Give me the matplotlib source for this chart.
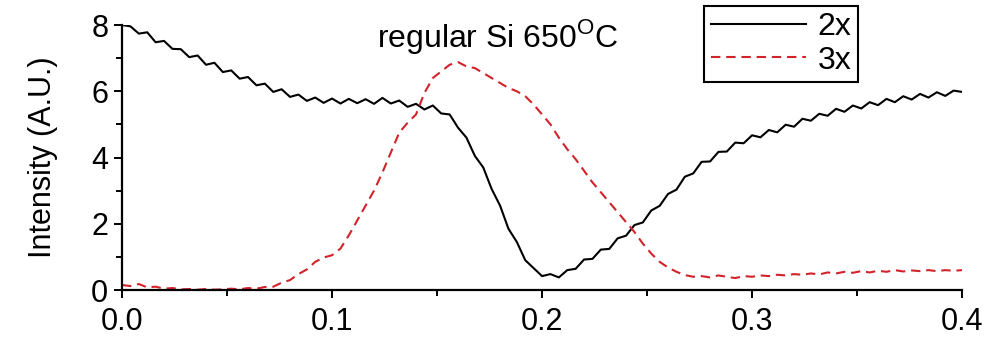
import numpy as np
import matplotlib
matplotlib.use('Agg')
import matplotlib.pyplot as plt
from matplotlib.ticker import MultipleLocator

plt.rcParams['font.family'] = ['Liberation Sans', 'DejaVu Sans']
plt.rcParams['mathtext.fontset'] = 'custom'
plt.rcParams['mathtext.rm'] = 'Liberation Sans'

# position grid (0 .. 0.4, step 0.004)
pos = np.linspace(0.0, 0.4, 101)

int_2x = [8.00, 7.96, 7.74, 7.78, 7.48, 7.52, 7.28, 7.27, 7.03, 7.08,
          6.80, 6.86, 6.58, 6.63, 6.38, 6.43, 6.18, 6.23, 5.98, 6.06,
          5.83, 5.90, 5.71, 5.81, 5.65, 5.78, 5.63, 5.77, 5.64, 5.76,
          5.62, 5.80, 5.63, 5.72, 5.53, 5.62, 5.45, 5.57, 5.33, 5.30,
          4.90, 4.60, 4.05, 3.70, 3.05, 2.55, 1.85, 1.45, 0.90, 0.66,
          0.42, 0.48, 0.38, 0.60, 0.64, 0.92, 0.94, 1.22, 1.24, 1.56,
          1.64, 1.96, 2.04, 2.40, 2.54, 2.90, 3.03, 3.42, 3.52, 3.87,
          3.88, 4.17, 4.18, 4.45, 4.43, 4.67, 4.61, 4.83, 4.76, 4.99,
          4.93, 5.17, 5.11, 5.32, 5.26, 5.47, 5.38, 5.57, 5.48, 5.67,
          5.58, 5.77, 5.67, 5.85, 5.75, 5.92, 5.81, 5.97, 5.86, 6.02,
          5.98]

int_3x = [0.15, 0.12, 0.18, 0.08, 0.10, 0.04, 0.06, 0.02, 0.03, 0.01,
          0.03, 0.01, 0.02, 0.04, 0.02, 0.06, 0.04, 0.09, 0.10, 0.22,
          0.30, 0.48, 0.62, 0.85, 0.98, 1.05, 1.25, 1.65, 2.10, 2.55,
          3.00, 3.55, 4.15, 4.75, 5.05, 5.30, 5.95, 6.40, 6.60, 6.80,
          6.88, 6.75, 6.70, 6.55, 6.40, 6.25, 6.10, 6.00, 5.85, 5.60,
          5.30, 5.00, 4.60, 4.25, 3.95, 3.60, 3.25, 2.95, 2.65, 2.35,
          2.05, 1.75, 1.40, 1.10, 0.85, 0.68, 0.55, 0.45, 0.40, 0.42,
          0.38, 0.44, 0.40, 0.36, 0.42, 0.40, 0.44, 0.42, 0.46, 0.44,
          0.48, 0.46, 0.50, 0.47, 0.53, 0.50, 0.55, 0.52, 0.57, 0.53,
          0.58, 0.55, 0.60, 0.56, 0.59, 0.57, 0.60, 0.57, 0.60, 0.58,
          0.60]

fig = plt.figure(figsize=(10.01, 3.38), dpi=100)
ax = fig.add_axes([0.1219, 0.142, 0.8392, 0.784])

ax.plot(pos, int_2x, color='black', lw=1.5, label='2x')
ax.plot(pos, int_3x, color='#d2232a', lw=1.5, linestyle=(0, (4.5, 2.8)), label='3x')

ax.set_xlim(0, 0.4)
ax.set_ylim(0, 8)
ax.xaxis.set_major_locator(MultipleLocator(0.1))
ax.xaxis.set_minor_locator(MultipleLocator(0.05))
ax.yaxis.set_major_locator(MultipleLocator(2))
ax.yaxis.set_minor_locator(MultipleLocator(1))
ax.xaxis.set_major_formatter(plt.FormatStrFormatter('%.1f'))

for s in ['top', 'right']:
    ax.spines[s].set_visible(False)
for s in ['left', 'bottom']:
    ax.spines[s].set_linewidth(1.6)

ax.tick_params(which='major', direction='out', length=6, width=1.4, labelsize=22)
ax.tick_params(which='minor', direction='out', length=4, width=1.4)
ax.tick_params(axis='x', pad=6)
ax.tick_params(axis='y', pad=4)

ax.set_ylabel('Intensity (A.U.)', fontsize=22, labelpad=24)

ax.text(0.179, 7.34, r'regular Si 650$^{\mathrm{O}}$C', fontsize=23,
        ha='center', va='baseline')

leg = fig.legend(loc='upper right', bbox_to_anchor=(0.857, 0.982),
                 borderaxespad=0, fontsize=23, handlelength=3.0,
                 handletextpad=0.35, borderpad=0.2, labelspacing=0.1,
                 fancybox=False, edgecolor='black', framealpha=1)
leg.get_frame().set_linewidth(1.5)

fig.savefig('out.png', dpi=100)
